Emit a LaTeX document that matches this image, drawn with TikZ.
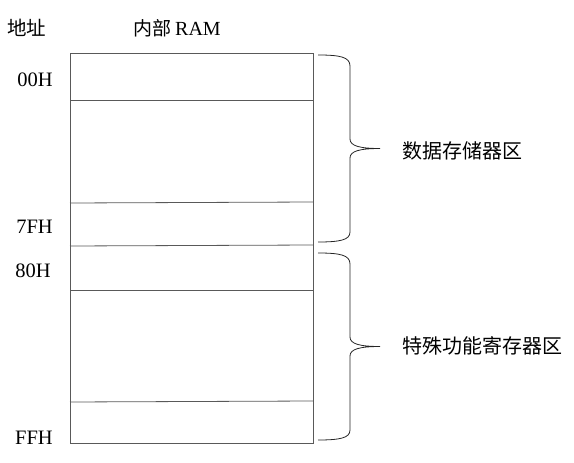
\documentclass[tikz,border=0pt]{standalone}
\usepackage{fontspec}
\setmainfont{Liberation Serif}
\newfontfamily\cjk{Noto Sans CJK SC}
\usepackage{tikz}

\begin{document}
\begin{tikzpicture}[x=1pt, y=-1pt,
    addr/.style={anchor=base east, inner sep=0pt, font=\fontsize{20.5}{24}\selectfont},
    zone/.style={anchor=west, inner sep=0pt, font=\cjk\fontsize{20}{24}\selectfont},
    cell/.style={draw=black!65, line width=.8pt},
    brc/.style={draw=black!85, line width=.8pt}]
  \useasboundingbox (0,0) rectangle (574,463);
  \node (head) [anchor=base west, inner sep=0pt, font=\cjk\fontsize{19.5}{24}\selectfont] at (7,35) {地址};
  \node (ramhead) [anchor=base west, inner sep=0pt, font=\fontsize{20}{24}\selectfont] at (133,35) {{\cjk\fontsize{19}{24}\selectfont 内部}\hspace{-1pt} RAM};
  \node (ram) [cell, anchor=north west, minimum width=243pt, minimum height=390pt, inner sep=0pt] at (70,53) {};
  \draw [cell] (ram.west |- 0,100) -- (ram.east |- 0,100);
  \draw [cell] (ram.west |- 0,203) -- (ram.east |- 0,202);
  \draw [cell] (ram.west |- 0,246) -- (ram.east |- 0,245);
  \draw [cell] (ram.west |- 0,290) -- (ram.east |- 0,290);
  \draw [cell] (ram.west |- 0,402) -- (ram.east |- 0,401);
  \node (a00) [addr] at (53,86) {00H};
  \node (a7f) [addr] at (53,233) {7FH};
  \node (a80) [addr] at (51,277) {80H};
  \node (aff) [addr] at (53,444) {FFH};
  % braces
  \draw [brc] (318,55) .. controls (340,55) and (350,57) .. (350,66) -- (350,139)
    .. controls (350,146) and (360,148.5) .. (380,148.5)
    .. controls (360,148.5) and (350,151) .. (350,158) -- (350,232)
    .. controls (350,240) and (340,242) .. (318,242);
  \draw [brc] (318,253) .. controls (340,253) and (350,255) .. (350,264) -- (350,337)
    .. controls (350,344) and (360,346.5) .. (380,346.5)
    .. controls (360,346.5) and (350,349) .. (350,356) -- (350,430)
    .. controls (350,438) and (340,440) .. (318,440);
  \node (data) [zone] at (402,151) {数据存储器区};
  \node (sfr) [zone] at (402,346) {特殊功能寄存器区};
\end{tikzpicture}
\end{document}
